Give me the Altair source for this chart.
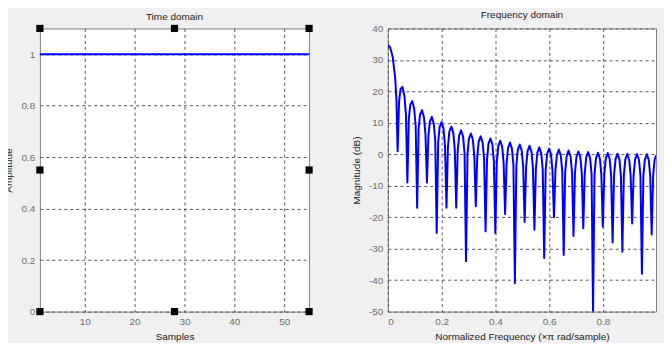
import altair as alt
import pandas as pd

# ---------------- data ----------------
samples = [1, 2, 3, 4, 5, 6, 7, 8, 9, 10, 11, 12, 13, 14, 15, 16, 17, 18, 19, 20,
           21, 22, 23, 24, 25, 26, 27, 28, 29, 30, 31, 32, 33, 34, 35, 36, 37, 38, 39, 40,
           41, 42, 43, 44, 45, 46, 47, 48, 49, 50, 51, 52, 53, 54, 55]
amplitude = [1, 1, 1, 1, 1, 1, 1, 1, 1, 1, 1, 1, 1, 1, 1, 1, 1, 1, 1, 1,
             1, 1, 1, 1, 1, 1, 1, 1, 1, 1, 1, 1, 1, 1, 1, 1, 1, 1, 1, 1,
             1, 1, 1, 1, 1, 1, 1, 1, 1, 1, 1, 1, 1, 1, 1]

handle_x = [1, 28, 55, 1, 55, 1, 28, 55]
handle_y = [1.1, 1.1, 1.1, 0.55, 0.55, 0, 0, 0]

freq = [
    0.0, 0.009, 0.018, 0.0273, 0.032,
    0.0364, 0.0418, 0.0473, 0.0545, 0.0618, 0.0673,
    0.0727, 0.0782, 0.0836, 0.0909, 0.0982, 0.1036,
    0.1091, 0.1145, 0.1200, 0.1273, 0.1345, 0.1400,
    0.1455, 0.1509, 0.1564, 0.1636, 0.1709, 0.1764,
    0.1818, 0.1873, 0.1927, 0.2000, 0.2073, 0.2127,
    0.2182, 0.2236, 0.2291, 0.2364, 0.2436, 0.2491,
    0.2545, 0.2600, 0.2655, 0.2727, 0.2800, 0.2855,
    0.2909, 0.2964, 0.3018, 0.3091, 0.3164, 0.3218,
    0.3273, 0.3327, 0.3382, 0.3455, 0.3527, 0.3582,
    0.3636, 0.3691, 0.3745, 0.3818, 0.3891, 0.3945,
    0.4000, 0.4055, 0.4109, 0.4182, 0.4255, 0.4309,
    0.4364, 0.4418, 0.4473, 0.4545, 0.4618, 0.4673,
    0.4727, 0.4782, 0.4836, 0.4909, 0.4982, 0.5036,
    0.5091, 0.5145, 0.5200, 0.5273, 0.5345, 0.5400,
    0.5455, 0.5509, 0.5564, 0.5636, 0.5709, 0.5764,
    0.5818, 0.5873, 0.5927, 0.6000, 0.6073, 0.6127,
    0.6182, 0.6236, 0.6291, 0.6364, 0.6436, 0.6491,
    0.6545, 0.6600, 0.6655, 0.6727, 0.6800, 0.6855,
    0.6909, 0.6964, 0.7018, 0.7091, 0.7164, 0.7218,
    0.7273, 0.7327, 0.7382, 0.7455, 0.7527, 0.7582,
    0.7636, 0.7691, 0.7745, 0.7818, 0.7891, 0.7945,
    0.8000, 0.8055, 0.8109, 0.8182, 0.8255, 0.8309,
    0.8364, 0.8418, 0.8473, 0.8545, 0.8618, 0.8673,
    0.8727, 0.8782, 0.8836, 0.8909, 0.8982, 0.9036,
    0.9091, 0.9145, 0.9200, 0.9273, 0.9345, 0.9400,
    0.9455, 0.9509, 0.9564, 0.9636, 0.9709, 0.9764,
    0.9818, 0.9873, 0.9927, 0.9980,
]
magnitude_db = [
    34.8, 33.9, 31.0, 24.3, 17.3,
    1.0, 16.8, 20.8, 21.4, 18.4, 12.7,
    -9.0, 11.4, 15.8, 16.9, 14.4, 9.0,
    -17.0, 8.1, 12.7, 14.0, 11.7, 6.4,
    -9.0, 5.7, 10.4, 11.9, 9.7, 4.4,
    -25.0, 3.8, 8.7, 10.2, 8.1, 2.8,
    -17.0, 2.4, 7.3, 8.8, 6.8, 1.5,
    -17.0, 1.1, 6.0, 7.6, 5.6, 0.3,
    -34.0, 0.0, 5.0, 6.6, 4.6, -0.6,
    -16.5, -0.9, 4.1, 5.7, 3.7, -1.5,
    -24.5, -1.7, 3.3, 5.0, 3.1, -2.2,
    -25.0, -2.4, 2.6, 4.3, 2.4, -2.8,
    -19.0, -3.0, 2.0, 3.7, 1.8, -3.4,
    -41.0, -3.6, 1.4, 3.1, 1.2, -4.0,
    -21.5, -4.0, 1.0, 2.7, 0.8, -4.4,
    -24.0, -4.6, 0.5, 2.2, 0.3, -4.8,
    -33.0, -5.0, 0.1, 1.8, -0.1, -5.2,
    -20.0, -5.3, -0.2, 1.5, -0.4, -5.5,
    -32.0, -5.6, -0.5, 1.2, -0.7, -5.8,
    -26.0, -5.9, -0.8, 0.9, -1.0, -6.1,
    -23.5, -6.1, -1.0, 0.7, -1.2, -6.3,
    -50.0, -6.3, -1.3, 0.5, -1.4, -6.4,
    -23.0, -6.4, -1.4, 0.4, -1.5, -6.6,
    -28.0, -6.6, -1.6, 0.2, -1.7, -6.7,
    -31.0, -6.7, -1.7, 0.1, -1.8, -6.8,
    -22.0, -6.8, -1.7, 0.1, -1.8, -6.8,
    -38.0, -6.9, -1.8, 0.0, -1.8, -6.9,
    -25.5, -6.9, -1.8, -0.3,
]

time_ticks_x = [10, 20, 30, 40, 50]
time_ticks_y = [0, 0.2, 0.4, 0.6, 0.8, 1]
freq_ticks_x = [0, 0.2, 0.4, 0.6, 0.8]
freq_ticks_y = [-50, -40, -30, -20, -10, 0, 10, 20, 30, 40]

# ---------------- styles ----------------
FONT = "Liberation Sans"
LABEL_EXPR = "toString(datum.value)"


def axis(values, title, title_pad, label_pad=5):
    return alt.Axis(values=values, title=title, labelExpr=LABEL_EXPR,
                    titlePadding=title_pad, labelPadding=label_pad)


def panel_title(text):
    return alt.Title(text, fontSize=10, fontWeight="normal", color="#222222",
                     font=FONT, offset=3)


time_df = pd.DataFrame({"Samples": samples, "Amplitude": amplitude})
handles_df = pd.DataFrame({"hx": handle_x, "hy": handle_y})
freq_df = pd.DataFrame({"f": freq, "db": magnitude_db})

x_time = alt.X("Samples:Q", scale=alt.Scale(domain=[1, 55], nice=False, zero=False),
               axis=axis(time_ticks_x, "Samples", 5))
y_time = alt.Y("Amplitude:Q", scale=alt.Scale(domain=[0, 1.1], nice=False),
               axis=axis(time_ticks_y, "Amplitude", 8))

time_line = alt.Chart(time_df).mark_line(color="#0000ff", strokeWidth=2).encode(
    x=x_time, y=y_time)

handles = alt.Chart(handles_df).mark_square(
    color="#000000", size=52, opacity=1, filled=True, clip=False).encode(
    x=alt.X("hx:Q", scale=alt.Scale(domain=[1, 55], nice=False, zero=False)),
    y=alt.Y("hy:Q", scale=alt.Scale(domain=[0, 1.1], nice=False)))

left = alt.layer(time_line, handles).properties(
    width=270, height=284, title=panel_title("Time domain"))

freq_line = alt.Chart(freq_df).mark_line(
    color="#0000ff", strokeWidth=2, clip=True, strokeJoin="round").encode(
    x=alt.X("f:Q", scale=alt.Scale(domain=[0, 0.998], nice=False),
            axis=axis(freq_ticks_x, "Normalized Frequency  (\u00d7\u03c0 rad/sample)", 5)),
    y=alt.Y("db:Q", scale=alt.Scale(domain=[-50, 40], nice=False),
            axis=axis(freq_ticks_y, "Magnitude (dB)", 7)),
)

right = freq_line.properties(width=269, height=284,
                             title=panel_title("Frequency domain"))

chart = alt.hconcat(left, right, spacing=79, bounds="flush").properties(
    background="#f0f0f0",
    padding={"left": -6, "top": 1, "right": 7, "bottom": 0},
).configure_view(
    stroke="#7f7f7f", strokeWidth=1, fill="#ffffff"
).configure_axis(
    grid=True, gridDash=[3, 3], gridColor="#555555", gridOpacity=1, gridWidth=1,
    domain=False, ticks=False,
    labelFont=FONT, labelFontSize=10, labelColor="#6e6e6e",
    titleFont=FONT, titleFontSize=10, titleFontWeight="normal", titleColor="#222222",
)

chart.save("out.html", embed_options={"renderer": "svg", "actions": False})
